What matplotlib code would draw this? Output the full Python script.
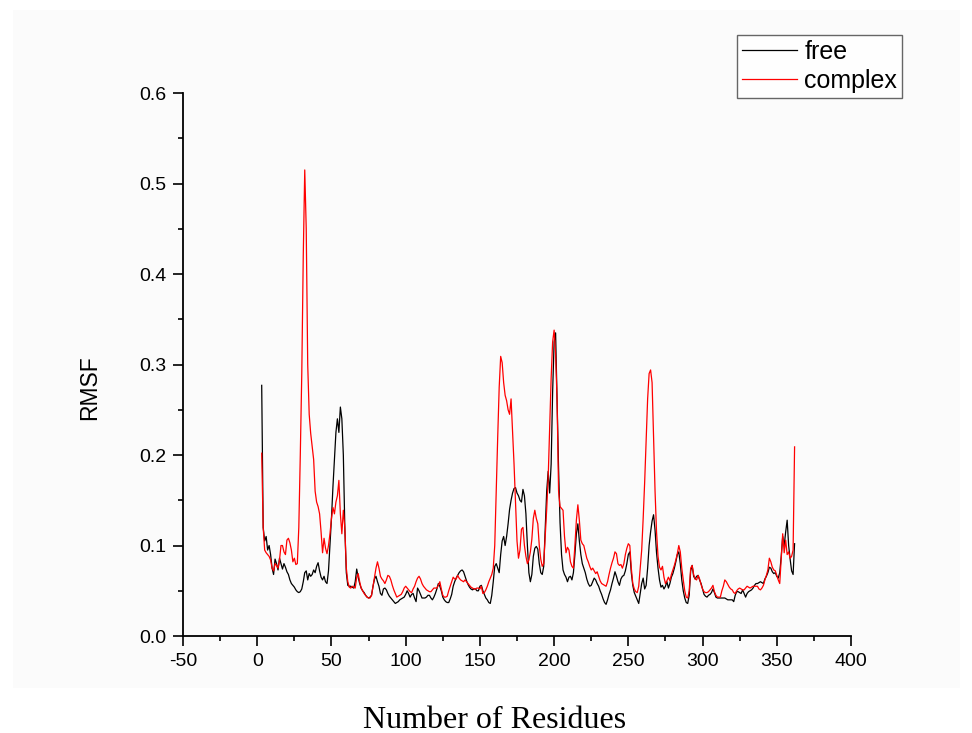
import matplotlib
matplotlib.use("Agg")
import matplotlib.pyplot as plt
import numpy as np
from matplotlib.patches import Rectangle
from matplotlib.ticker import MultipleLocator

# residue numbers 3..362
residues = list(range(3, 363))

rmsf_free = [
    0.277, 0.120, 0.105, 0.110, 0.095, 0.100, 0.090, 0.075, 0.068, 0.085,
    0.080, 0.073, 0.086, 0.080, 0.074, 0.080, 0.076, 0.071, 0.068, 0.062,
    0.058, 0.056, 0.054, 0.051, 0.049, 0.048, 0.049, 0.052, 0.060, 0.070,
    0.072, 0.062, 0.069, 0.066, 0.068, 0.073, 0.070, 0.077, 0.081, 0.072,
    0.065, 0.062, 0.066, 0.060, 0.058, 0.072, 0.100, 0.130, 0.165, 0.195,
    0.225, 0.240, 0.225, 0.253, 0.240, 0.200, 0.120, 0.070, 0.056, 0.055,
    0.055, 0.054, 0.053, 0.060, 0.074, 0.065, 0.058, 0.053, 0.050, 0.048,
    0.045, 0.043, 0.042, 0.043, 0.045, 0.055, 0.063, 0.066, 0.060, 0.055,
    0.047, 0.045, 0.052, 0.053, 0.051, 0.047, 0.044, 0.042, 0.040, 0.038,
    0.036, 0.037, 0.038, 0.040, 0.041, 0.042, 0.043, 0.046, 0.050, 0.047,
    0.043, 0.046, 0.047, 0.042, 0.038, 0.053, 0.050, 0.046, 0.042, 0.042,
    0.042, 0.043, 0.045, 0.045, 0.042, 0.040, 0.043, 0.047, 0.052, 0.058,
    0.055, 0.050, 0.043, 0.040, 0.038, 0.037, 0.037, 0.041, 0.046, 0.055,
    0.060, 0.064, 0.067, 0.070, 0.072, 0.073, 0.071, 0.066, 0.061, 0.057,
    0.054, 0.052, 0.051, 0.052, 0.052, 0.050, 0.050, 0.055, 0.056, 0.050,
    0.046, 0.042, 0.040, 0.037, 0.036, 0.045, 0.060, 0.077, 0.080, 0.075,
    0.070, 0.090, 0.105, 0.110, 0.100, 0.110, 0.124, 0.140, 0.150, 0.158,
    0.163, 0.164, 0.158, 0.155, 0.150, 0.148, 0.162, 0.155, 0.135, 0.100,
    0.070, 0.060, 0.068, 0.088, 0.097, 0.099, 0.096, 0.080, 0.070, 0.068,
    0.077, 0.120, 0.160, 0.182, 0.158, 0.190, 0.270, 0.325, 0.335, 0.260,
    0.185, 0.125, 0.090, 0.073, 0.068, 0.065, 0.060, 0.065, 0.066, 0.062,
    0.070, 0.090, 0.113, 0.124, 0.105, 0.090, 0.080, 0.075, 0.070, 0.063,
    0.058, 0.055, 0.056, 0.060, 0.064, 0.062, 0.058, 0.055, 0.050, 0.046,
    0.041, 0.037, 0.035, 0.040, 0.046, 0.051, 0.058, 0.064, 0.071, 0.066,
    0.060, 0.056, 0.063, 0.066, 0.067, 0.072, 0.080, 0.090, 0.093, 0.070,
    0.056, 0.048, 0.044, 0.040, 0.036, 0.047, 0.058, 0.064, 0.052, 0.056,
    0.075, 0.100, 0.115, 0.127, 0.134, 0.117, 0.092, 0.075, 0.062, 0.054,
    0.056, 0.052, 0.055, 0.060, 0.053, 0.058, 0.065, 0.069, 0.075, 0.082,
    0.090, 0.093, 0.080, 0.062, 0.050, 0.042, 0.037, 0.036, 0.045, 0.072,
    0.078, 0.066, 0.063, 0.066, 0.067, 0.062, 0.058, 0.052, 0.046, 0.044,
    0.043, 0.045, 0.046, 0.048, 0.052, 0.048, 0.043, 0.042, 0.042, 0.042,
    0.042, 0.042, 0.042, 0.041, 0.040, 0.040, 0.040, 0.040, 0.038, 0.045,
    0.049, 0.049, 0.048, 0.047, 0.051, 0.047, 0.043, 0.047, 0.049, 0.050,
    0.051, 0.053, 0.056, 0.058, 0.058, 0.059, 0.060, 0.059, 0.058, 0.063,
    0.066, 0.070, 0.076, 0.075, 0.071, 0.069, 0.070, 0.066, 0.064, 0.070,
    0.088, 0.110, 0.100, 0.115, 0.128, 0.100, 0.085, 0.072, 0.068, 0.102,
]

rmsf_complex = [
    0.202, 0.120, 0.095, 0.092, 0.090, 0.088, 0.084, 0.075, 0.072, 0.080,
    0.078, 0.075, 0.084, 0.100, 0.100, 0.093, 0.090, 0.106, 0.108, 0.103,
    0.095, 0.082, 0.086, 0.079, 0.080, 0.120, 0.200, 0.290, 0.420, 0.515,
    0.450, 0.300, 0.245, 0.224, 0.210, 0.195, 0.160, 0.148, 0.143, 0.135,
    0.115, 0.092, 0.108, 0.097, 0.091, 0.100, 0.113, 0.130, 0.142, 0.135,
    0.148, 0.155, 0.172, 0.135, 0.113, 0.139, 0.120, 0.075, 0.060, 0.054,
    0.053, 0.055, 0.054, 0.053, 0.065, 0.069, 0.060, 0.053, 0.050, 0.047,
    0.045, 0.043, 0.042, 0.042, 0.045, 0.055, 0.065, 0.075, 0.082, 0.075,
    0.066, 0.063, 0.061, 0.058, 0.062, 0.067, 0.066, 0.062, 0.056, 0.051,
    0.047, 0.043, 0.044, 0.045, 0.046, 0.049, 0.053, 0.055, 0.053, 0.051,
    0.049, 0.048, 0.052, 0.055, 0.060, 0.064, 0.066, 0.063, 0.058, 0.055,
    0.053, 0.051, 0.050, 0.049, 0.049, 0.051, 0.053, 0.053, 0.053, 0.056,
    0.060, 0.052, 0.045, 0.043, 0.043, 0.044, 0.050, 0.055, 0.060, 0.065,
    0.063, 0.063, 0.067, 0.064, 0.062, 0.061, 0.060, 0.062, 0.060, 0.058,
    0.056, 0.054, 0.053, 0.052, 0.052, 0.053, 0.053, 0.052, 0.055, 0.047,
    0.048, 0.051, 0.055, 0.060, 0.064, 0.068, 0.075, 0.100, 0.160, 0.220,
    0.275, 0.309, 0.302, 0.280, 0.266, 0.260, 0.250, 0.245, 0.262, 0.225,
    0.190, 0.148, 0.105, 0.086, 0.095, 0.118, 0.120, 0.100, 0.088, 0.080,
    0.084, 0.093, 0.107, 0.130, 0.139, 0.130, 0.124, 0.100, 0.085, 0.077,
    0.080, 0.110, 0.140, 0.175, 0.230, 0.285, 0.325, 0.338, 0.312, 0.260,
    0.160, 0.143, 0.141, 0.139, 0.110, 0.092, 0.098, 0.095, 0.082, 0.077,
    0.075, 0.100, 0.128, 0.145, 0.128, 0.106, 0.102, 0.100, 0.093, 0.086,
    0.082, 0.077, 0.073, 0.075, 0.072, 0.069, 0.071, 0.066, 0.061, 0.058,
    0.057, 0.056, 0.055, 0.060, 0.068, 0.075, 0.081, 0.086, 0.093, 0.091,
    0.080, 0.078, 0.079, 0.075, 0.080, 0.090, 0.097, 0.102, 0.100, 0.075,
    0.058, 0.052, 0.049, 0.048, 0.055, 0.075, 0.095, 0.130, 0.170, 0.215,
    0.262, 0.290, 0.294, 0.280, 0.220, 0.160, 0.115, 0.088, 0.076, 0.073,
    0.077, 0.065, 0.058, 0.061, 0.065, 0.061, 0.068, 0.073, 0.078, 0.084,
    0.091, 0.100, 0.093, 0.075, 0.062, 0.050, 0.043, 0.042, 0.050, 0.075,
    0.078, 0.068, 0.063, 0.062, 0.067, 0.063, 0.057, 0.052, 0.049, 0.048,
    0.048, 0.049, 0.051, 0.053, 0.056, 0.049, 0.045, 0.043, 0.043, 0.043,
    0.050, 0.055, 0.062, 0.060, 0.057, 0.054, 0.052, 0.051, 0.048, 0.047,
    0.050, 0.052, 0.053, 0.052, 0.051, 0.051, 0.053, 0.055, 0.054, 0.053,
    0.054, 0.055, 0.055, 0.055, 0.055, 0.052, 0.051, 0.053, 0.056, 0.062,
    0.067, 0.073, 0.086, 0.082, 0.076, 0.073, 0.072, 0.067, 0.062, 0.058,
    0.085, 0.113, 0.092, 0.106, 0.090, 0.093, 0.086, 0.088, 0.095, 0.209,
]

x_ticks = [-50, 0, 50, 100, 150, 200, 250, 300, 350, 400]
y_ticks = [0.0, 0.1, 0.2, 0.3, 0.4, 0.5, 0.6]

plt.rcParams["font.family"] = ["Liberation Sans", "DejaVu Sans"]

fig = plt.figure(figsize=(9.72, 7.33), dpi=100)
# faint off-white plot page behind the graph
fig.patches.append(Rectangle((0.013, 0.062), 0.975, 0.925, transform=fig.transFigure,
                             facecolor="#fbfbfb", edgecolor="none", zorder=-10))
ax = fig.add_axes([0.1883, 0.1323, 0.6872, 0.7408])
ax.set_facecolor("none")

ax.plot(residues, rmsf_free, color="black", linewidth=0.9, label="free")
ax.plot(residues, rmsf_complex, color="#ff0000", linewidth=0.9, label="complex")

ax.set_xlim(-50, 400)
ax.set_ylim(0, 0.6)
ax.set_xticks(x_ticks)
ax.set_xticklabels([str(t) for t in x_ticks])
ax.set_yticks(y_ticks)
ax.set_yticklabels([f"{t:.1f}" for t in y_ticks])
ax.xaxis.set_minor_locator(MultipleLocator(25))
ax.yaxis.set_minor_locator(MultipleLocator(0.05))
ax.tick_params(which="major", direction="out", length=7, width=1.2, labelsize=14, pad=5)
ax.tick_params(which="minor", direction="out", length=3.8, width=1.2)
for side in ("top", "right"):
    ax.spines[side].set_visible(False)
for side in ("left", "bottom"):
    ax.spines[side].set_linewidth(1.3)

ax.set_ylabel("RMSF", fontsize=16.5)
ax.yaxis.set_label_coords(-0.122, 0.457)
fig.text(495 / 972, 1 - 720 / 733, "Number of Residues", fontsize=23,
         family=["Liberation Serif", "DejaVu Serif"], ha="center", va="center")

leg = ax.legend(loc="upper right", bbox_to_anchor=(902 / 972, 1 - 35 / 733),
                bbox_transform=fig.transFigure, fontsize=18, frameon=True,
                fancybox=False, handlelength=2.2, handletextpad=0.3,
                borderpad=0.2, labelspacing=0.2, borderaxespad=0)
leg.get_frame().set_edgecolor("#404040")
leg.get_frame().set_linewidth(1.0)

fig.savefig("out.png", dpi=100)
plt.close(fig)
